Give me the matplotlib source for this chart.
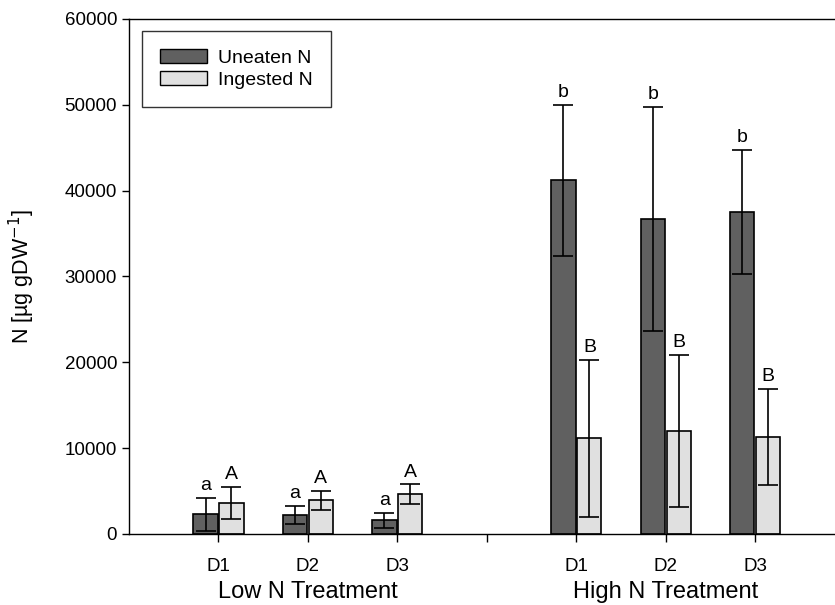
import numpy as np
import matplotlib
matplotlib.use("Agg")
from matplotlib import pyplot as plt
from matplotlib.patches import Patch

plt.rcParams['font.family'] = ['Liberation Sans', 'DejaVu Sans']

days = ['D1', 'D2', 'D3']
groups = ['Low N Treatment', 'High N Treatment']

uneaten_mean = [2300, 2200, 1600, 41200, 36700, 37500]
uneaten_err = [1900, 1050, 850, 8800, 13050, 7250]
ingested_mean = [3650, 3950, 4650, 11150, 12000, 11250]
ingested_err = [1850, 1100, 1130, 9150, 8850, 5600]
uneaten_letters = ['a', 'a', 'a', 'b', 'b', 'b']
ingested_letters = ['A', 'A', 'A', 'B', 'B', 'B']

DARK = '#606060'
LIGHT = '#e0e0e0'

# day positions, with an empty slot between the two treatments
pos = np.array([1, 2, 3, 5, 6, 7])
w = 0.27
off = 0.145

fig = plt.figure(figsize=(8.35, 6.05), dpi=100)
ax = fig.add_axes([0.1545, 0.1174, 0.8455, 0.8512])

ax.bar(pos - off, uneaten_mean, w, color=DARK, edgecolor='black', linewidth=1.2)
ax.bar(pos + off, ingested_mean, w, color=LIGHT, edgecolor='black', linewidth=1.2)
ax.errorbar(pos - off, uneaten_mean, yerr=uneaten_err, fmt='none', ecolor='black',
            elinewidth=1.2, capsize=7, capthick=1.2)
ax.errorbar(pos + off, ingested_mean, yerr=ingested_err, fmt='none', ecolor='black',
            elinewidth=1.2, capsize=7, capthick=1.2)

for x, m, e, t in zip(pos - off, uneaten_mean, uneaten_err, uneaten_letters):
    ax.text(x, m + e + 450, t, ha='center', va='bottom', fontsize=14)
for x, m, e, t in zip(pos + off, ingested_mean, ingested_err, ingested_letters):
    ax.text(x, m + e + 450, t, ha='center', va='bottom', fontsize=14)

ax.set_xlim(0, 7.89)
ax.set_ylim(0, 60000)
ax.set_yticks(np.arange(0, 60001, 10000))
ax.set_xticks(list(pos) + [4])
ax.set_xticklabels(days + days + [''])
ax.tick_params(axis='both', labelsize=13.5, direction='out', length=5, width=1)
ax.tick_params(axis='x', length=6, pad=11)
ax.spines['right'].set_visible(False)
for s in ['left', 'top', 'bottom']:
    ax.spines[s].set_linewidth(1)

ax.set_ylabel('N [µg gDW$^{-1}$]', fontsize=15.5)
ax.yaxis.set_label_coords(-0.13, 0.5)

for cx, g in zip([2, 6], groups):
    ax.text(cx, -0.134, g, transform=ax.get_xaxis_transform(), ha='center',
            va='bottom', fontsize=17)

handles = [Patch(facecolor=DARK, edgecolor='black', label='Uneaten N'),
           Patch(facecolor=LIGHT, edgecolor='black', label='Ingested N')]
leg = ax.legend(handles=handles, loc='upper left', bbox_to_anchor=(0.0184, 0.9767),
                fontsize=14, frameon=True, fancybox=False, edgecolor='black',
                handlelength=2.37, handleheight=0.72, borderpad=0.95,
                labelspacing=0.2, handletextpad=0.57, borderaxespad=0)
leg.get_frame().set_linewidth(1)

fig.savefig('out.png', dpi=100)
